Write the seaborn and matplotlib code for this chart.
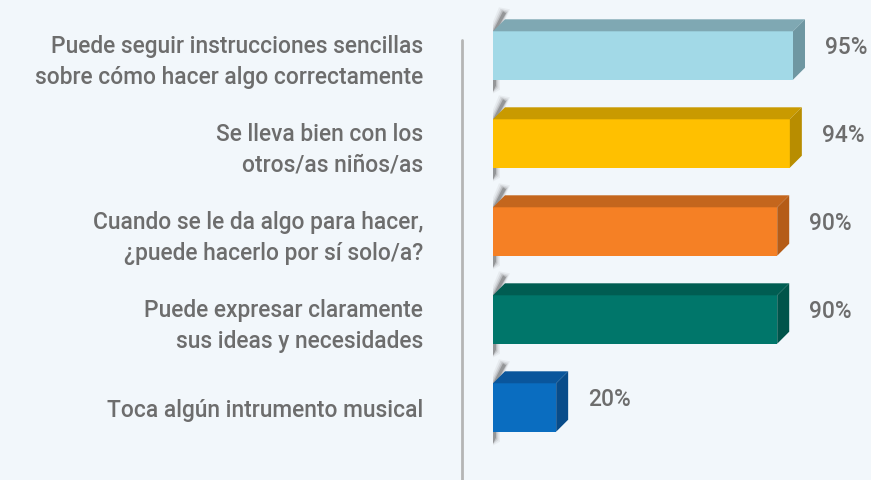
import numpy as np
import pandas as pd
import seaborn as sns
import matplotlib.pyplot as plt
from matplotlib.patches import Polygon
from matplotlib.lines import Line2D

# --- data -------------------------------------------------------------
categories = [
    "Puede seguir instrucciones sencillas\nsobre cómo hacer algo correctamente",
    "Se lleva bien con los\notros/as niños/as",
    "Cuando se le da algo para hacer,\n¿puede hacerlo por sí solo/a?",
    "Puede expresar claramente\nsus ideas y necesidades",
    "Toca algún intrumento musical",
]
values = [95, 94, 90, 90, 20]

front_colors = ["#a2d9e7", "#ffc000", "#f58025", "#00766a", "#0a6dc0"]
top_colors = ["#7fa8b3", "#c99a00", "#c4661d", "#005d52", "#0a569c"]
side_colors = ["#6f97a2", "#b88d00", "#b55c17", "#00544a", "#084c8a"]

# --- layout -----------------------------------------------------------
W, H = 871, 480
BG = "#f2f7fb"
TEXT = "#6d6d6d"
FS = 16.4
x0_px = 493            # left edge of the bars
px_per_pct = 300 / 95  # horizontal scale
row_px = 88            # distance between bar centres
first_center_px = 55.5
depth_px = 12          # 3-D extrusion depth
bar_w = 0.55

sns.set_theme(style="white")
plt.rcParams["font.family"] = ["Roboto", "DejaVu Sans"]

fig = plt.figure(figsize=(W / 100, H / 100), dpi=100)
fig.patch.set_facecolor(BG)
ax = fig.add_axes([x0_px / W, 0, (W - x0_px) / W, 1])
ax.set_facecolor("none")

df = pd.DataFrame({"item": categories, "pct": values})
sns.barplot(data=df, y="item", x="pct", hue="item", palette=front_colors,
            saturation=1, width=bar_w, legend=False, ax=ax, zorder=3,
            linewidth=0)

ax.set_xlim(0, (W - x0_px) / px_per_pct)
last_center_px = first_center_px + row_px * (len(values) - 1)
ax.set_ylim(len(values) - 1 + (H - last_center_px) / row_px,
            -first_center_px / row_px)

dx = depth_px / px_per_pct
dy = depth_px / row_px
px = 1 / px_per_pct
py = 1 / row_px

for i, (v, fc, tc, sc) in enumerate(zip(values, front_colors, top_colors, side_colors)):
    yt = i - bar_w / 2
    yb = i + bar_w / 2
    # soft shadow of the hidden left end
    for a, grow in [(0.06, 4.0), (0.10, 2.5), (0.16, 1.2), (0.30, 0.0)]:
        gx = grow * px
        gy = grow * py
        shadow = Polygon([
            (-gx, yt),
            (dx - 2 * px - gx, yt - dy - 8 * py - gy),
            (dx + 1 * px + gx, yt - dy - 6 * py - gy),
            (3 * px + gx, yt),
            (3 * px + gx, yb + 6 * py + gy),
            (-gx, yb + 12 * py + gy),
        ], closed=True, facecolor="#3a3a3a", edgecolor="none", alpha=a, zorder=2)
        ax.add_patch(shadow)
    top = Polygon([(0, yt), (dx, yt - dy), (v + dx, yt - dy), (v, yt)],
                  closed=True, facecolor=tc, edgecolor="none", zorder=4)
    side = Polygon([(v, yt), (v + dx, yt - dy), (v + dx, yb - dy), (v, yb)],
                   closed=True, facecolor=sc, edgecolor="none", zorder=4)
    ax.add_patch(top)
    ax.add_patch(side)
    ax.text(v + dx + 20 * px, i - 8.5 * py, f"{v}%",
            ha="left", va="center", fontsize=FS, fontweight="medium",
            color=TEXT, zorder=5)

# category labels
ax.set_ylabel("")
ax.set_xlabel("")
ax.set_xticks([])
ax.tick_params(axis="y", length=0, pad=(x0_px - 423) * 0.72)
for lbl in ax.get_yticklabels():
    lbl.set_fontsize(FS)
    lbl.set_fontweight("medium")
    lbl.set_color(TEXT)
    lbl.set_linespacing(1.44)
    lbl.set_multialignment("right")
for s in ax.spines.values():
    s.set_visible(False)

# vertical separator
fig.add_artist(Line2D([462 / W, 462 / W], [0, 1 - 40 / H],
                      color="#b5b5b5", lw=2, transform=fig.transFigure))

fig.savefig("out.png", dpi=100, facecolor=BG)
